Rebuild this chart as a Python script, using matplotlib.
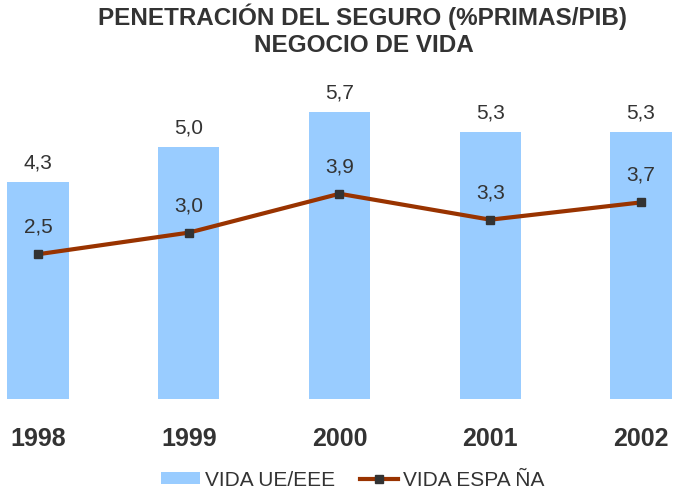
import matplotlib
matplotlib.use('Agg')
import matplotlib.pyplot as plt

plt.rcParams['font.family'] = ['Liberation Sans', 'DejaVu Sans']

# Datos
anios = ['1998', '1999', '2000', '2001', '2002']
vida_ue = [4.3, 5.0, 5.7, 5.3, 5.3]
vida_espana = [2.5, 3.0, 3.9, 3.3, 3.7]

gris = '#333333'
azul = '#99CCFF'
rojo = '#993300'

fig = plt.figure(figsize=(6.74, 4.91), dpi=100)
ax = fig.add_axes([0, 92 / 491, 1, 299 / 491])
ax2 = ax.twinx()

x = list(range(len(anios)))

# Barras (eje principal)
barras = ax.bar(x, vida_ue, width=0.405, color=azul, label='VIDA UE/EEE', zorder=1)
for xi, v in zip(x, vida_ue):
    ax.annotate(f'{v:.1f}'.replace('.', ','), (xi, v), xytext=(0, 19),
                textcoords='offset pixels', ha='center', va='center',
                fontsize=15, color=gris)

# Línea (eje secundario)
linea, = ax2.plot(x, vida_espana, color=rojo, linewidth=3, marker='s',
                  markersize=6, markerfacecolor=gris, markeredgecolor=gris,
                  label='VIDA ESPA ÑA', zorder=3)
for xi, v in zip(x, vida_espana):
    ax2.annotate(f'{v:.1f}'.replace('.', ','), (xi, v), xytext=(0, 27),
                 textcoords='offset pixels', ha='center', va='center',
                 fontsize=15, color=gris)

ax.set_xlim(-0.252, 4.219)
ax.set_ylim(0, 5.93)
ax2.set_ylim(-0.85, 6.07)

for a in (ax, ax2):
    for s in a.spines.values():
        s.set_visible(False)
    a.set_yticks([])

ax.set_xticks(x)
ax.set_xticklabels(anios, fontsize=18, fontweight='bold', color=gris)
ax.tick_params(axis='x', length=0, pad=20)

fig.text(362 / 674, 1 - 17 / 491, 'PENETRACIÓN DEL SEGURO (%PRIMAS/PIB)',
         ha='center', va='center', fontsize=17.5, fontweight='bold', color=gris)
fig.text(364 / 674, 1 - 45 / 491, 'NEGOCIO DE VIDA',
         ha='center', va='center', fontsize=17.5, fontweight='bold', color=gris)

leg = fig.legend([barras, linea], ['VIDA UE/EEE', 'VIDA ESPA ÑA'],
                 loc='center', bbox_to_anchor=(353 / 674, 11 / 491), ncol=2,
                 frameon=False, fontsize=15, handlelength=1.83,
                 handleheight=0.45, handletextpad=0.25, columnspacing=1.2,
                 labelcolor=gris)

fig.savefig('out.png', dpi=100)
